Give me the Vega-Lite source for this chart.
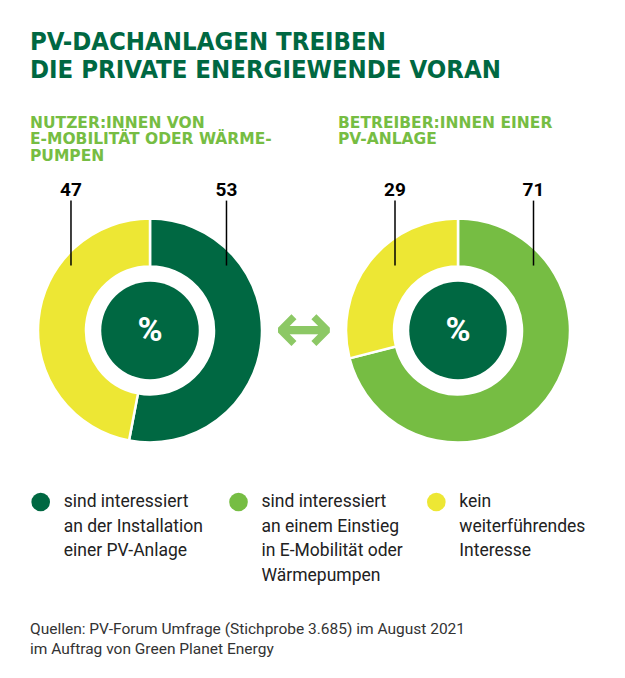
{
  "$schema": "https://vega.github.io/schema/vega-lite/v6.json",
  "background": "white",
  "padding": {"left": 30, "top": 30, "right": 5, "bottom": 5},
  "title": {
    "text": ["PV-DACHANLAGEN TREIBEN", "DIE PRIVATE ENERGIEWENDE VORAN"],
    "anchor": "start",
    "frame": "group",
    "font": "DejaVu Sans Condensed, sans-serif",
    "fontSize": 25.5,
    "fontWeight": "bold",
    "color": "#006842",
    "lineHeight": 28,
    "offset": 32
  },
  "config": {"view": {"stroke": null}, "font": "Roboto"},
  "datasets": {
    "anteile": [
      {"gruppe": "Nutzer:innen von E-Mobilität oder Wärmepumpen", "kategorie": "sind interessiert an der Installation einer PV-Anlage", "anteil": 53},
      {"gruppe": "Nutzer:innen von E-Mobilität oder Wärmepumpen", "kategorie": "kein weiterführendes Interesse", "anteil": 47},
      {"gruppe": "Betreiber:innen einer PV-Anlage", "kategorie": "sind interessiert an einem Einstieg in E-Mobilität oder Wärmepumpen", "anteil": 71},
      {"gruppe": "Betreiber:innen einer PV-Anlage", "kategorie": "kein weiterführendes Interesse", "anteil": 29}
    ],
    "legende": [
      {"kategorie": "sind interessiert an der Installation einer PV-Anlage", "beschriftung": "sind interessiert\nan der Installation\neiner PV-Anlage"},
      {"kategorie": "sind interessiert an einem Einstieg in E-Mobilität oder Wärmepumpen", "beschriftung": "sind interessiert\nan einem Einstieg\nin E-Mobilität oder\nWärmepumpen"},
      {"kategorie": "kein weiterführendes Interesse", "beschriftung": "kein\nweiterführendes\nInteresse"}
    ]
  },
  "vconcat": [
    {
      "hconcat": [
        {
          "width": 240,
          "height": 305,
          "title": {
            "text": ["NUTZER:INNEN VON", "E-MOBILITÄT ODER WÄRME-", "PUMPEN"],
            "anchor": "start",
            "font": "DejaVu Sans, sans-serif",
            "fontSize": 15.5,
            "fontWeight": "bold",
            "color": "#76BD43",
            "lineHeight": 16.5,
            "offset": 14
          },
          "data": {"name": "anteile"},
          "transform": [{"filter": "datum.gruppe === 'Nutzer:innen von E-Mobilität oder Wärmepumpen'"}],
          "layer": [
            {
              "mark": {"type": "arc", "outerRadius": 112, "innerRadius": 64, "stroke": "white", "strokeWidth": 2.5},
              "encoding": {
                "theta": {"field": "anteil", "type": "quantitative", "stack": true},
                "order": {"field": "anteil", "sort": "descending"},
                "color": {
                  "field": "kategorie", "type": "nominal", "legend": null,
                  "scale": {
                    "domain": ["sind interessiert an der Installation einer PV-Anlage", "sind interessiert an einem Einstieg in E-Mobilität oder Wärmepumpen", "kein weiterführendes Interesse"],
                    "range": ["#006842", "#76BD43", "#EDE734"]
                  }
                }
              }
            },
            {
              "mark": {"type": "rule", "color": "black", "strokeWidth": 1.5},
              "encoding": {
                "x": {"field": "kategorie", "type": "nominal", "axis": null, "scale": {"type": "point", "domain": ["kein weiterführendes Interesse", "sind interessiert an der Installation einer PV-Anlage"], "padding": 0.2717, "align": 0.485}},
                "y": {"datum": 1.15, "type": "quantitative", "axis": null, "scale": {"domain": [-1.35, 1.35], "nice": false, "zero": false}},
                "y2": {"datum": 0.575}
              }
            },
            {
              "mark": {"type": "text", "fontSize": 19, "fontWeight": "bold", "color": "black", "baseline": "middle"},
              "encoding": {
                "x": {"field": "kategorie", "type": "nominal"},
                "y": {"datum": 1.24, "type": "quantitative"},
                "text": {"field": "anteil", "type": "quantitative"}
              }
            },
            {
              "data": {"values": [{"zeichen": "%"}]},
              "mark": {"type": "point", "filled": true, "shape": "circle", "size": 9503, "color": "#006842", "opacity": 1},
              "encoding": {}
            },
            {
              "data": {"values": [{"zeichen": "%"}]},
              "mark": {"type": "text", "fontSize": 34, "fontWeight": "bold", "color": "white", "baseline": "middle"},
              "encoding": {"text": {"field": "zeichen"}}
            }
          ]
        },
        {
          "width": 68,
          "height": 305,
          "data": {"values": [{"symbol": "↔"}]},
          "mark": {"type": "text", "fontSize": 70, "fontWeight": "bold", "font": "DejaVu Sans", "color": "#8CC865", "baseline": "middle"},
          "encoding": {"text": {"field": "symbol"}}
        },
        {
          "width": 240,
          "height": 305,
          "title": {
            "text": ["BETREIBER:INNEN EINER", "PV-ANLAGE", " "],
            "anchor": "start",
            "font": "DejaVu Sans, sans-serif",
            "fontSize": 15.5,
            "fontWeight": "bold",
            "color": "#76BD43",
            "lineHeight": 16.5,
            "offset": 14
          },
          "data": {"name": "anteile"},
          "transform": [{"filter": "datum.gruppe === 'Betreiber:innen einer PV-Anlage'"}],
          "layer": [
            {
              "mark": {"type": "arc", "outerRadius": 112, "innerRadius": 64, "stroke": "white", "strokeWidth": 2.5},
              "encoding": {
                "theta": {"field": "anteil", "type": "quantitative", "stack": true},
                "order": {"field": "anteil", "sort": "descending"},
                "color": {"field": "kategorie", "type": "nominal", "legend": null}
              }
            },
            {
              "mark": {"type": "rule", "color": "black", "strokeWidth": 1.5},
              "encoding": {
                "x": {"field": "kategorie", "type": "nominal", "axis": null, "scale": {"type": "point", "domain": ["kein weiterführendes Interesse", "sind interessiert an einem Einstieg in E-Mobilität oder Wärmepumpen"], "padding": 0.3664, "align": 0.5616}},
                "y": {"datum": 1.15, "type": "quantitative", "axis": null, "scale": {"domain": [-1.35, 1.35], "nice": false, "zero": false}},
                "y2": {"datum": 0.575}
              }
            },
            {
              "mark": {"type": "text", "fontSize": 19, "fontWeight": "bold", "color": "black", "baseline": "middle"},
              "encoding": {
                "x": {"field": "kategorie", "type": "nominal"},
                "y": {"datum": 1.24, "type": "quantitative"},
                "text": {"field": "anteil", "type": "quantitative"}
              }
            },
            {
              "data": {"values": [{"zeichen": "%"}]},
              "mark": {"type": "point", "filled": true, "shape": "circle", "size": 9503, "color": "#006842", "opacity": 1},
              "encoding": {}
            },
            {
              "data": {"values": [{"zeichen": "%"}]},
              "mark": {"type": "text", "fontSize": 34, "fontWeight": "bold", "color": "white", "baseline": "middle"},
              "encoding": {"text": {"field": "zeichen"}}
            }
          ]
        }
      ],
      "spacing": 0,
      "bounds": "flush"
    },
    {
      "width": 417,
      "height": 20,
      "data": {"name": "legende"},
      "title": {
        "text": ["Quellen: PV-Forum Umfrage (Stichprobe 3.685) im August 2021", "im Auftrag von Green Planet Energy"],
        "orient": "bottom",
        "anchor": "start",
        "font": "Roboto",
        "fontSize": 15.5,
        "fontWeight": "normal",
        "color": "#333333",
        "lineHeight": 20,
        "offset": 38
      },
      "encoding": {
        "x": {"field": "kategorie", "type": "nominal", "axis": null, "scale": {"type": "point", "domain": ["sind interessiert an der Installation einer PV-Anlage", "sind interessiert an einem Einstieg in E-Mobilität oder Wärmepumpen", "kein weiterführendes Interesse"], "padding": 0.054}}
      },
      "layer": [
        {
          "mark": {"type": "point", "filled": true, "shape": "circle", "size": 346, "opacity": 1},
          "encoding": {"color": {"field": "kategorie", "type": "nominal", "legend": null}}
        },
        {
          "mark": {"type": "text", "align": "left", "baseline": "top", "dx": 23, "dy": -9, "fontSize": 17.5, "lineHeight": 24.5, "lineBreak": "\n", "color": "#222222"},
          "encoding": {"text": {"field": "beschriftung"}}
        }
      ]
    }
  ],
  "spacing": 9
}
